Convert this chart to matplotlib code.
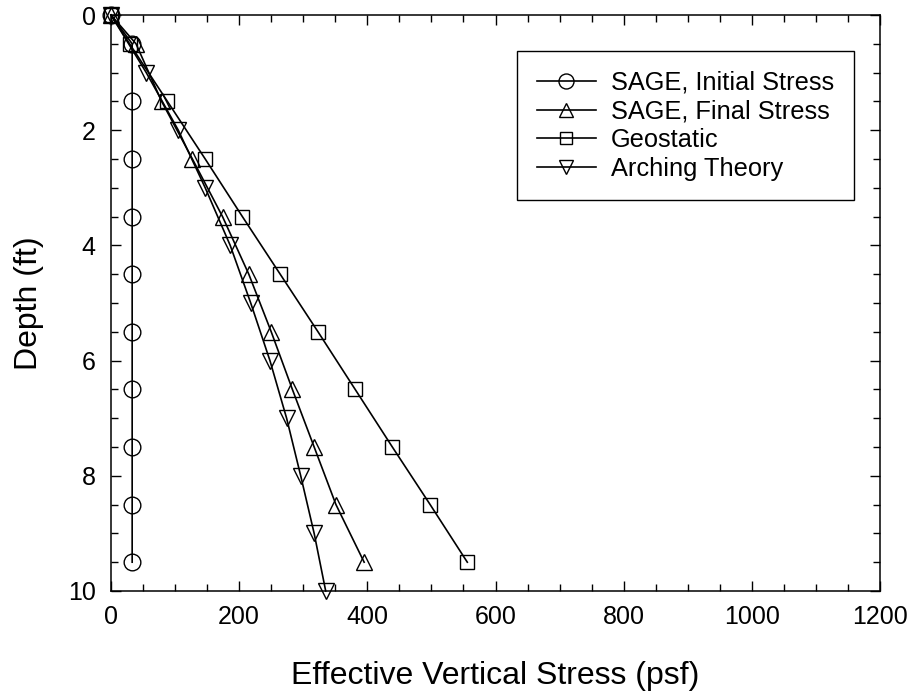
import matplotlib
matplotlib.use("Agg")
import matplotlib.pyplot as plt
from matplotlib.ticker import MultipleLocator

plt.rcParams['font.family'] = ['Liberation Sans', 'DejaVu Sans']

# depths (ft) and effective vertical stress (psf)
depth_sage = [0, 0.5, 1.5, 2.5, 3.5, 4.5, 5.5, 6.5, 7.5, 8.5, 9.5]
initial_stress = [0, 33, 33, 33, 33, 33, 33, 33, 33, 33, 33]
final_stress = [0, 39, 79, 127, 174, 215, 250, 283, 317, 351, 395]
geostatic = [0, 29, 88, 147, 205, 264, 323, 381, 439, 498, 556]

depth_arch = [0, 1, 2, 3, 4, 5, 6, 7, 8, 9, 10]
arching = [0, 55, 105, 147, 186, 218, 248, 274, 296, 317, 335]

fig = plt.figure(figsize=(9.16, 6.98), dpi=100)
ax = fig.add_axes([0.1212, 0.1533, 0.8395, 0.8252])

style = dict(color='black', lw=1.2, mfc='none', mec='black', mew=1.0, clip_on=False)
ax.plot(initial_stress, depth_sage, marker='o', ms=12, label='SAGE, Initial Stress', **style)
ax.plot(final_stress, depth_sage, marker='^', ms=11, label='SAGE, Final Stress', **style)
ax.plot(geostatic, depth_sage, marker='s', ms=10, label='Geostatic', **style)
ax.plot(arching, depth_arch, marker='v', ms=11, label='Arching Theory', **style)

ax.set_xlim(0, 1200)
ax.set_ylim(10, 0)
ax.xaxis.set_major_locator(MultipleLocator(200))
ax.xaxis.set_minor_locator(MultipleLocator(50))
ax.yaxis.set_major_locator(MultipleLocator(2))
ax.yaxis.set_minor_locator(MultipleLocator(0.5))
ax.tick_params(which='both', direction='in', top=True, right=True, labelsize=18, width=1)
ax.tick_params(which='major', length=7.5, pad=10)
ax.tick_params(which='minor', length=5)
ax.tick_params(axis='y', which='major', pad=11)
for s in ax.spines.values():
    s.set_linewidth(1.1)

ax.set_xlabel('Effective Vertical Stress (psf)', fontsize=23, labelpad=23)
ax.set_ylabel('Depth (ft)', fontsize=23, labelpad=17)

leg = ax.legend(loc='upper right', bbox_to_anchor=(0.966, 0.9375), fontsize=18.3,
                markerscale=0.9, fancybox=False, framealpha=1, edgecolor='black',
                handlelength=2.3, handletextpad=0.6, borderpad=0.78, labelspacing=0.18,
                borderaxespad=0)
leg.get_frame().set_linewidth(1.0)

fig.savefig('out.png', dpi=100)
